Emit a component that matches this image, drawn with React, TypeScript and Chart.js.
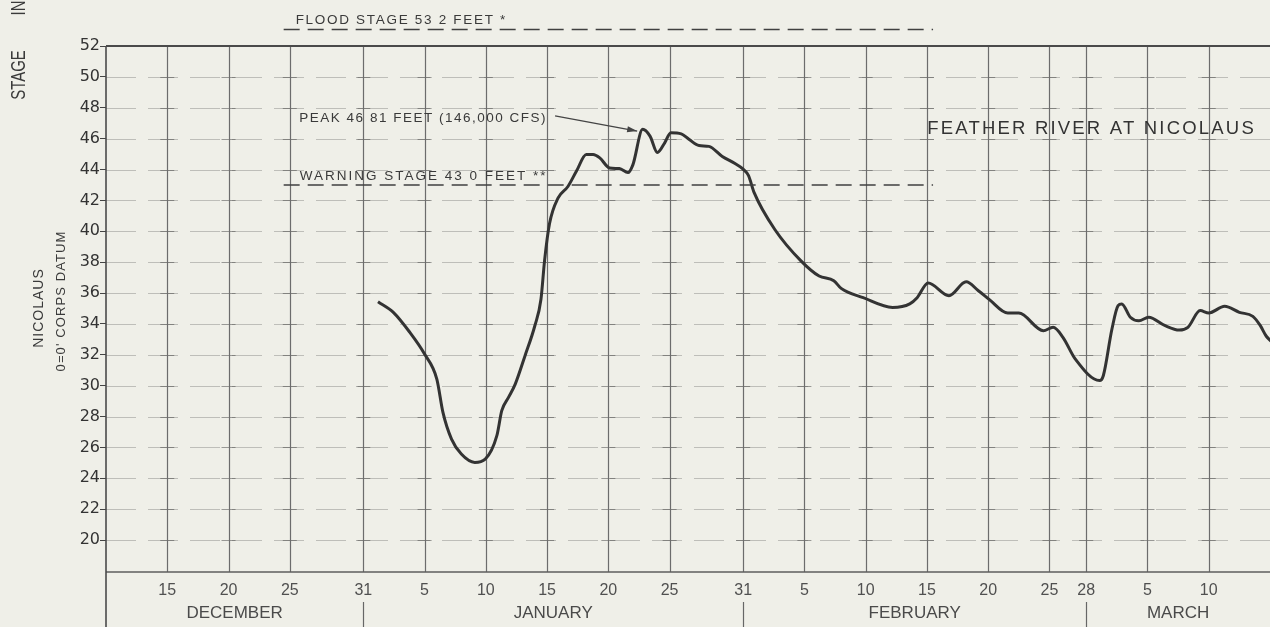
import React, { useEffect, useRef } from "react";
import { Chart, registerables } from "chart.js";

Chart.register(...registerables);

// Day index: Dec d = d, Jan d = 31 + d, Feb d = 62 + d, Mar d = 90 + d
const days = [32.2, 33.45, 34.8, 36.0, 37.0, 37.5, 38.2, 39.0, 40.1, 40.95, 41.9, 42.3, 42.85, 43.4, 44.2, 45.0, 45.5, 45.8, 46.2, 46.9, 47.7, 48.4, 49.2, 49.75, 50.3, 51.1, 51.9, 52.6, 53.0, 53.8, 54.4, 55.0, 55.6, 56.1, 56.95, 57.6, 58.4, 59.2, 60.3, 61.3, 62.0, 62.44, 62.9, 64.6, 66.7, 68.2, 69.4, 70.0, 71.8, 74.2, 75.6, 76.2, 77.1, 78.8, 80.2, 81.2, 82.1, 83.6, 84.5, 86.5, 87.3, 88.1, 89.1, 91.1, 91.4, 92.1, 92.6, 92.9, 93.6, 94.3, 95.1, 96.4, 97.6, 98.3, 99.3, 100.0, 101.3, 102.5, 103.6, 104.2, 104.7, 105.2];
const stage = [35.44, 34.75, 33.45, 32.05, 30.43, 28.27, 26.54, 25.57, 25.03, 25.24, 26.76, 28.38, 29.24, 30.1, 31.94, 33.88, 35.6, 38.15, 40.5, 42.16, 42.9, 43.9, 44.97, 44.97, 44.75, 44.1, 44.06, 43.8, 44.3, 46.6, 46.16, 45.1, 45.73, 46.38, 46.31, 45.94, 45.55, 45.5, 44.85, 44.4, 44.02, 43.6, 42.5, 40.1, 38.1, 37.1, 36.8, 36.3, 35.7, 35.07, 35.3, 35.7, 36.65, 35.83, 36.73, 36.15, 35.57, 34.7, 34.7, 33.56, 33.78, 33.13, 31.73, 30.33, 30.66, 33.67, 35.18, 35.29, 34.43, 34.2, 34.43, 33.9, 33.6, 33.78, 34.86, 34.71, 35.14, 34.75, 34.49, 33.9, 33.2, 32.8];

const xTickDays = [15, 20, 25, 31, 36, 41, 46, 51, 56, 62, 67, 72, 77, 82, 87, 90, 95, 100];
const xTickLabels = ["15", "20", "25", "31", "5", "10", "15", "20", "25", "31", "5", "10", "15", "20", "25", "28", "5", "10"];
const yTickValues = [20, 22, 24, 26, 28, 30, 32, 34, 36, 38, 40, 42, 44, 46, 48, 50, 52];
const months = ["DECEMBER", "JANUARY", "FEBRUARY", "MARCH"];
const monthBounds = [10, 31, 62, 90, 105];

const floodStage = 53.2;
const warningStage = 43.0;
const stageLineSpan = [24.5, 77.5];
const floodText = "FLOOD STAGE 53 2 FEET *";
const warningText = "WARNING STAGE 43 0 FEET **";
const peakText = "PEAK 46 81 FEET (146,000 CFS)";
const peakTextAt = [25.78, 47.1];
const peakArrowFrom = [46.65, 47.47];
const peakArrowTo = [53.35, 46.49];
const titleText = "FEATHER RIVER AT NICOLAUS";
const titleAt = [77.02, 46.3];

const PAPER = "#efefe8";
const INK = "#3a3a3a";
const SANS = "'Liberation Sans', Arial, sans-serif";

function drawText(ctx: CanvasRenderingContext2D, s: string, x: number, y: number, size: number, spacing: number, align: CanvasTextAlign = "left", color = INK) {
  ctx.save();
  ctx.font = `${size}px ${SANS}`;
  (ctx as any).letterSpacing = `${spacing}px`;
  ctx.fillStyle = color;
  ctx.textAlign = align;
  ctx.textBaseline = "alphabetic";
  ctx.fillText(s, x, y);
  ctx.restore();
}

function drawRotated(ctx: CanvasRenderingContext2D, s: string, x: number, y: number, size: number, spacing: number, align: CanvasTextAlign, squeeze = 1) {
  ctx.save();
  ctx.translate(x, y);
  ctx.rotate(-Math.PI / 2);
  ctx.scale(squeeze, 1);
  ctx.font = `${size}px ${SANS}`;
  (ctx as any).letterSpacing = `${spacing}px`;
  ctx.fillStyle = INK;
  ctx.textAlign = align;
  ctx.textBaseline = "alphabetic";
  ctx.fillText(s, 0, 0);
  ctx.restore();
}

function line(ctx: CanvasRenderingContext2D, x1: number, y1: number, x2: number, y2: number) {
  ctx.beginPath();
  ctx.moveTo(x1, y1);
  ctx.lineTo(x2, y2);
  ctx.stroke();
}

const paperPlugin = {
  id: "paper",
  beforeDraw(chart: any) {
    const ctx = chart.ctx;
    ctx.save();
    ctx.fillStyle = PAPER;
    ctx.fillRect(0, 0, chart.width, chart.height);
    ctx.restore();
  },
  beforeDatasetsDraw(chart: any) {
    const ctx: CanvasRenderingContext2D = chart.ctx;
    const { left, right, top, bottom } = chart.chartArea;
    const x = chart.scales.x;
    const y = chart.scales.y;
    ctx.save();
    // horizontal dashed grid
    ctx.lineWidth = 1;
    ctx.strokeStyle = "rgba(90,90,90,0.33)";
    ctx.setLineDash([30, 12]);
    for (const v of yTickValues) {
      if (v >= 52) continue;
      const py = Math.round(y.getPixelForValue(v)) + 0.5;
      line(ctx, left, py, right, py);
    }
    // small crosses
    ctx.setLineDash([]);
    ctx.strokeStyle = "rgba(80,80,80,0.55)";
    for (const v of yTickValues) {
      if (v >= 52) continue;
      const py = Math.round(y.getPixelForValue(v)) + 0.5;
      for (const d of xTickDays) {
        const px = x.getPixelForValue(d);
        line(ctx, px - 7, py, px + 7, py);
      }
    }
    // vertical grid
    ctx.strokeStyle = "#6c6c6c";
    ctx.lineWidth = 1.2;
    for (const d of xTickDays) {
      const px = Math.round(x.getPixelForValue(d)) + 0.5;
      line(ctx, px, top, px, bottom);
    }
    // borders
    ctx.strokeStyle = "#4a4a4a";
    ctx.lineWidth = 2;
    line(ctx, left, top, right, top);
    ctx.strokeStyle = "#5e5e5e";
    ctx.lineWidth = 1.6;
    line(ctx, left, bottom, right, bottom);
    ctx.strokeStyle = "#4a4a4a";
    ctx.lineWidth = 1.6;
    line(ctx, left, top, left, chart.height);
    // month separators
    ctx.strokeStyle = "#666";
    ctx.lineWidth = 1.2;
    for (const b of monthBounds.slice(1, -1)) {
      const px = Math.round(x.getPixelForValue(b)) + 0.5;
      line(ctx, px, bottom + 30, px, chart.height);
    }
    ctx.restore();
  },
  afterDatasetsDraw(chart: any) {
    const ctx: CanvasRenderingContext2D = chart.ctx;
    const { bottom } = chart.chartArea;
    const x = chart.scales.x;
    const y = chart.scales.y;
    ctx.save();
    // stage lines
    ctx.strokeStyle = "#404040";
    ctx.lineWidth = 1.6;
    ctx.setLineDash([16, 8]);
    const x1 = x.getPixelForValue(stageLineSpan[0]);
    const x2 = x.getPixelForValue(stageLineSpan[1]);
    const fy = y.getPixelForValue(floodStage) + 2;
    const wy = y.getPixelForValue(warningStage);
    line(ctx, x1, fy, x2, fy);
    line(ctx, x1, wy, x2, wy);
    ctx.setLineDash([]);
    drawText(ctx, floodText, x1 + 12, fy - 5, 13.5, 1.7);
    drawText(ctx, warningText, x1 + 16, wy - 4.5, 13.5, 2.0);
    drawText(ctx, peakText, x.getPixelForValue(peakTextAt[0]), y.getPixelForValue(peakTextAt[1]), 13.5, 1.5);
    drawText(ctx, titleText, x.getPixelForValue(titleAt[0]), y.getPixelForValue(titleAt[1]), 18.5, 2.2, "left", "#333");
    // arrow
    const ax1 = x.getPixelForValue(peakArrowFrom[0]);
    const ay1 = y.getPixelForValue(peakArrowFrom[1]);
    const ax2 = x.getPixelForValue(peakArrowTo[0]);
    const ay2 = y.getPixelForValue(peakArrowTo[1]);
    ctx.strokeStyle = "#444";
    ctx.lineWidth = 1.2;
    line(ctx, ax1, ay1, ax2, ay2);
    const ang = Math.atan2(ay2 - ay1, ax2 - ax1);
    ctx.fillStyle = "#444";
    ctx.beginPath();
    ctx.moveTo(ax2, ay2);
    ctx.lineTo(ax2 - 10 * Math.cos(ang) + 3 * Math.sin(ang), ay2 - 10 * Math.sin(ang) - 3 * Math.cos(ang));
    ctx.lineTo(ax2 - 10 * Math.cos(ang) - 3 * Math.sin(ang), ay2 - 10 * Math.sin(ang) + 3 * Math.cos(ang));
    ctx.closePath();
    ctx.fill();
    // month labels
    for (let i = 0; i < months.length; i++) {
      const mid = (monthBounds[i] + monthBounds[i + 1]) / 2;
      drawText(ctx, months[i], x.getPixelForValue(mid), bottom + 46, 17, 0, "center", "#4a4a4a");
    }
    // left axis titles
    drawRotated(ctx, "STAGE", 25, 75, 20, 0, "center", 0.75);
    drawRotated(ctx, "IN FEET", 25, 15.5, 20, 0, "left", 0.75);
    drawRotated(ctx, "NICOLAUS", 43, 308, 14, 1, "center");
    drawRotated(ctx, "0=0' CORPS DATUM", 65, 301, 13, 1.1, "center");
    ctx.restore();
  },
};

export default function App() {
  const canvasRef = useRef<HTMLCanvasElement | null>(null);

  useEffect(() => {
    const canvas = canvasRef.current;
    if (!canvas) return;
    const chart = new Chart(canvas, {
      type: "line",
      data: {
        datasets: [
          {
            data: days.map((d, i) => ({ x: d, y: stage[i] })),
            borderColor: "#333333",
            borderWidth: 3,
            pointRadius: 0,
            cubicInterpolationMode: "monotone",
            fill: false,
          },
        ],
      },
      options: {
        responsive: false,
        animation: false,
        devicePixelRatio: 1,
        layout: { padding: { top: 46, left: 0, right: 0, bottom: 0 } },
        plugins: { legend: { display: false }, tooltip: { enabled: false } },
        scales: {
          x: {
            type: "linear",
            min: 10,
            max: 105,
            afterBuildTicks: (s: any) => {
              s.ticks = xTickDays.map((v) => ({ value: v }));
            },
            afterFit: (s: any) => {
              s.height = 55;
            },
            grid: { drawOnChartArea: false, drawTicks: false },
            border: { display: false },
            ticks: {
              autoSkip: false,
              maxRotation: 0,
              padding: 9,
              color: "#505050",
              font: { family: "'Liberation Sans', Arial, sans-serif", size: 16 },
              callback: (_v: any, i: number) => xTickLabels[i],
            },
          },
          y: {
            type: "linear",
            min: 17.93,
            max: 52,
            afterBuildTicks: (s: any) => {
              s.ticks = yTickValues.map((v) => ({ value: v }));
            },
            afterFit: (s: any) => {
              s.width = 106;
            },
            grid: { drawOnChartArea: false, drawTicks: true, tickLength: 6, tickColor: "#444", tickWidth: 1 },
            border: { display: false },
            ticks: {
              padding: 0,
              color: "#333",
              font: { family: "'DejaVu Sans', sans-serif", size: 16 },
              callback: (v: any) => String(v),
            },
          },
        },
      },
      plugins: [paperPlugin],
    } as any);
    return () => chart.destroy();
  }, []);

  return (
    <div style={{ position: "fixed", left: 0, top: 0, width: 1270, height: 627, background: PAPER, overflow: "hidden" }}>
      <canvas ref={canvasRef} width={1270} height={627} style={{ display: "block", width: 1270, height: 627 }} />
    </div>
  );
}
